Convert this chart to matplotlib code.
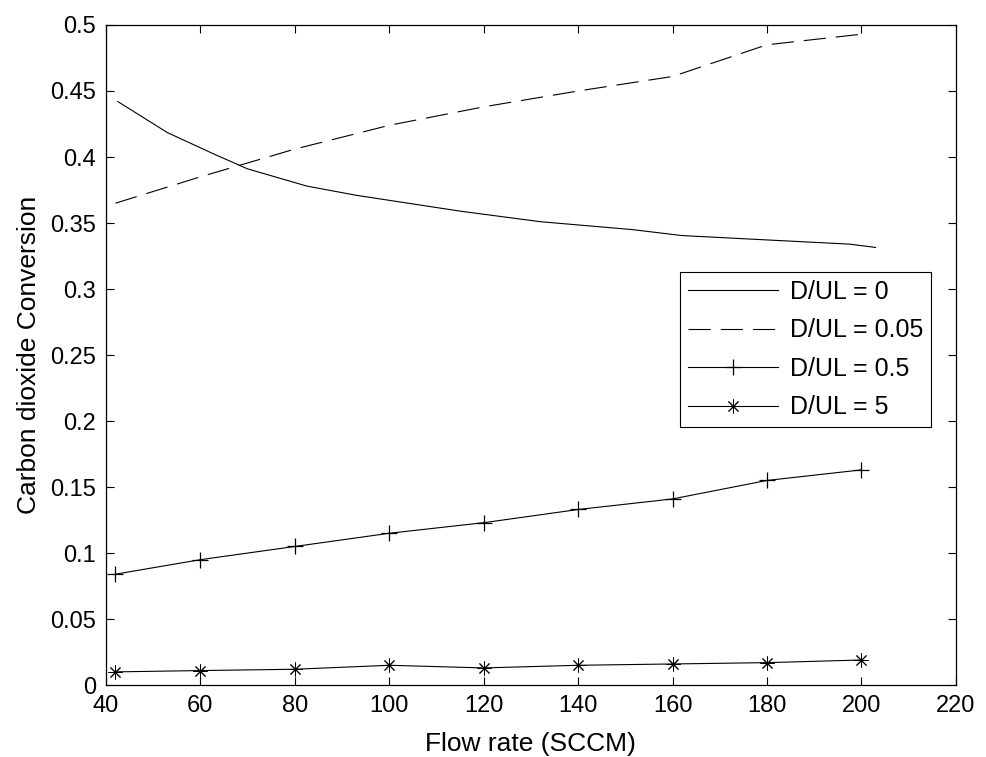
import numpy as np
import matplotlib
matplotlib.use("Agg")
import matplotlib.pyplot as plt
from matplotlib.ticker import FuncFormatter

plt.rcParams['font.family'] = ['Liberation Sans', 'DejaVu Sans']

# --- data ---
x_dul0 = [42.5, 53, 63, 70, 82.5, 93, 115, 132, 151.5, 162, 181, 197.5, 203]
y_dul0 = [0.442, 0.4185, 0.402, 0.391, 0.378, 0.371, 0.359, 0.351, 0.345,
          0.3405, 0.337, 0.334, 0.3315]

flow = [42, 60, 80, 100, 120, 140, 160, 180, 200]
y_dul005 = [0.365, 0.385, 0.406, 0.424, 0.438, 0.450, 0.461, 0.485, 0.493]
y_dul05 = [0.084, 0.095, 0.105, 0.115, 0.123, 0.133, 0.141, 0.155, 0.163]
y_dul5 = [0.010, 0.011, 0.012, 0.015, 0.013, 0.015, 0.016, 0.017, 0.019]

labels = ['D/UL = 0', 'D/UL = 0.05', 'D/UL = 0.5', 'D/UL = 5']
x_ticks = [40, 60, 80, 100, 120, 140, 160, 180, 200, 220]
y_ticks = [0, 0.05, 0.1, 0.15, 0.2, 0.25, 0.3, 0.35, 0.4, 0.45, 0.5]

# --- plot ---
fig = plt.figure(figsize=(9.87, 7.57), dpi=100)
ax = fig.add_axes([0.1074, 0.095, 0.861, 0.872])

lw = 0.8
ax.plot(x_dul0, y_dul0, color='black', lw=lw, label=labels[0])
ax.plot(flow, y_dul005, color='black', lw=lw, linestyle=(0, (20, 9)), label=labels[1])
ax.plot(flow, y_dul05, color='black', lw=lw, marker='+', markersize=12,
        markeredgewidth=0.9, label=labels[2])
ax.plot(flow, y_dul5, color='black', lw=lw, marker=(8, 2, 0), markersize=10,
        markeredgewidth=0.7, label=labels[3])

ax.set_xlim(40, 220)
ax.set_ylim(0, 0.5)
ax.set_xticks(x_ticks)
ax.set_yticks(y_ticks)
ax.yaxis.set_major_formatter(FuncFormatter(lambda v, p: '%g' % round(v, 3)))
ax.tick_params(direction='in', top=True, right=True, length=6, width=0.8,
               labelsize=17)
ax.tick_params(axis='x', pad=7)
ax.tick_params(axis='y', pad=7)
for s in ax.spines.values():
    s.set_linewidth(0.9)

ax.set_xlabel('Flow rate (SCCM)', fontsize=19, labelpad=11)
ax.set_ylabel('Carbon dioxide Conversion', fontsize=19, labelpad=7)

leg = ax.legend(loc='upper right', bbox_to_anchor=(0.971, 0.626), fontsize=18,
                handlelength=3.6, labelspacing=0.58, borderpad=0.32,
                handletextpad=0.48, fancybox=False, framealpha=1,
                edgecolor='black', borderaxespad=0)
leg.get_frame().set_linewidth(0.8)

fig.savefig('out.png', dpi=100)
